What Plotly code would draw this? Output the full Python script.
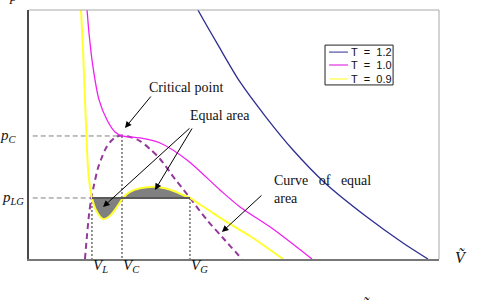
import plotly.graph_objects as go

# ---- data (reduced units) ----
v_t12 = [1.763, 1.817, 2.032, 2.269, 2.548, 2.839, 3.183, 3.634, 4.022, 4.290]
p_t12 = [2.106, 2.024, 1.740, 1.439, 1.154, 0.886, 0.618, 0.341, 0.130, 0.000]

v_t10 = [0.613, 0.624, 0.645, 0.688, 0.753, 0.839, 0.925, 1.000, 1.194, 1.409, 1.699, 2.054, 2.269, 2.624, 3.043]
p_t10 = [2.106, 2.024, 1.837, 1.561, 1.293, 1.130, 1.033, 1.000, 0.984, 0.943, 0.805, 0.561, 0.423, 0.244, 0.000]

v_t09 = [0.554, 0.559, 0.581, 0.602, 0.624, 0.640, 0.661, 0.677, 0.720, 0.796, 0.871, 0.946, 1.011, 1.086,
         1.194, 1.355, 1.462, 1.570, 1.656, 1.731, 1.839, 1.946, 2.161, 2.376, 2.731]
p_t09 = [2.106, 2.024, 1.699, 1.293, 0.886, 0.683, 0.561, 0.496, 0.398, 0.325, 0.352, 0.423, 0.496, 0.545,
         0.575, 0.588, 0.575, 0.549, 0.520, 0.496, 0.443, 0.390, 0.285, 0.187, 0.000]

v_equal = [0.602, 0.624, 0.645, 0.667, 0.699, 0.742, 0.785, 0.828, 0.882, 0.935, 1.000, 1.086, 1.194,
           1.301, 1.409, 1.570, 1.731, 1.914, 2.086, 2.290]
p_equal = [0.000, 0.195, 0.358, 0.480, 0.602, 0.740, 0.829, 0.902, 0.959, 0.992, 1.004, 0.992, 0.959,
           0.894, 0.813, 0.650, 0.496, 0.317, 0.171, 0.000]

p_C = 1.0
V_C = 1.0
p_LG = 0.496
V_L = 0.677
V_G = 1.731

legend_names = ["T\u00a0\u00a0=\u00a0\u00a01.2", "T\u00a0\u00a0=\u00a0\u00a01.0", "T\u00a0\u00a0=\u00a0\u00a00.9"]

X_MAX = 4.409
Y_MAX = 2.024

serif = "Liberation Serif"
sans = "Liberation Sans"

fig = go.Figure()

# gray equal-area lobes (part of the T=0.9 isotherm between V_L and V_G)
i0 = v_t09.index(V_L)
i1 = v_t09.index(V_G)
fig.add_trace(go.Scatter(x=v_t09[i0:i1 + 1], y=p_t09[i0:i1 + 1], mode="lines",
                         line=dict(width=0, shape="spline", smoothing=0.8),
                         fill="toself", fillcolor="#808080", hoverinfo="skip"))

# reference lines
fig.add_trace(go.Scatter(x=[0.04, V_C], y=[p_C, p_C], mode="lines",
                         line=dict(color="#808080", width=1, dash="5px,3px")))
fig.add_trace(go.Scatter(x=[0.04, V_L], y=[p_LG, p_LG], mode="lines",
                         line=dict(color="#808080", width=1, dash="5px,3px")))
for v, p in [(V_L, p_LG), (V_C, p_C), (V_G, p_LG)]:
    fig.add_trace(go.Scatter(x=[v, v], y=[p, 0], mode="lines",
                             line=dict(color="#222222", width=1, dash="2px,2px")))

# dashed equal-area curve
fig.add_trace(go.Scatter(x=v_equal, y=p_equal, mode="lines",
                         line=dict(color="#93399a", width=2, dash="6px,4px", shape="spline", smoothing=0.8)))

# isotherms
fig.add_trace(go.Scatter(x=v_t12, y=p_t12, mode="lines",
                         line=dict(color="#2e2e92", width=1.3, shape="spline", smoothing=0.8)))
fig.add_trace(go.Scatter(x=v_t10, y=p_t10, mode="lines",
                         line=dict(color="#f020f0", width=1.3, shape="spline", smoothing=0.8)))
fig.add_trace(go.Scatter(x=v_t09, y=p_t09, mode="lines",
                         line=dict(color="#ffff30", width=2, shape="spline", smoothing=0.8)))

# horizontal equal-area line
fig.add_trace(go.Scatter(x=[V_L, V_G], y=[p_LG, p_LG], mode="lines",
                         line=dict(color="#5a5a5a", width=2)))

ann = []
# arrows (tail -> head)
arrows = [((1.323, 1.333), (1.032, 1.065)),
          ((1.742, 1.073), (0.796, 0.423)),
          ((1.763, 1.073), (1.355, 0.561)),
          ((2.516, 0.528), (2.075, 0.220))]
for (tx, ty), (hx, hy) in arrows:
    ann.append(dict(x=hx, y=hy, ax=tx, ay=ty, xref="x", yref="y", axref="x", ayref="y",
                    text="", showarrow=True, arrowhead=2, arrowsize=1.3, arrowwidth=1,
                    arrowcolor="#000000"))

tf = dict(family=serif, size=14, color="#111111")
ann.append(dict(x=1.269, y=1.398, xref="x", yref="y", text="Critical point", showarrow=False,
                xanchor="left", yanchor="middle", font=tf))
ann.append(dict(x=1.710, y=1.163, xref="x", yref="y", text="Equal area", showarrow=False,
                xanchor="left", yanchor="middle", font=tf))
ann.append(dict(x=2.613, y=0.569, xref="x", yref="y",
                text="Curve\u00a0\u00a0 of\u00a0\u00a0 equal<br>area", showarrow=False,
                xanchor="left", yanchor="middle", align="left", font=tf))

lf = dict(family=serif, size=15, color="#111111")
ann.append(dict(x=-0.0244, y=p_C, xref="paper", yref="y", text="<i>p</i><sub><i>C</i></sub>",
                showarrow=False, xanchor="right", yanchor="middle", font=lf))
ann.append(dict(x=-0.0073, y=p_LG, xref="paper", yref="y", text="<i>p</i><sub><i>LG</i></sub>",
                showarrow=False, xanchor="right", yanchor="middle", font=lf))
for v, s in [(V_L, "L"), (V_C, "C"), (V_G, "G")]:
    ann.append(dict(x=v, y=-0.030, xref="x", yref="paper", text=f"<i>V</i><sub><i>{s}</i></sub>",
                    showarrow=False, xanchor="left", yanchor="middle", font=lf, xshift=-1))
ann.append(dict(x=1.054, y=0.008, xref="paper", yref="paper", text="<i>\u1e7c</i>",
                showarrow=False, xanchor="center", yanchor="middle", font=dict(family=serif, size=16, color="#111111")))
ann.append(dict(x=0.822, y=-0.189, xref="paper", yref="paper", text="<i>\u1e7c</i>",
                showarrow=False, xanchor="center", yanchor="middle", font=dict(family=serif, size=16, color="#111111")))
ann.append(dict(x=-0.039, y=1.056, xref="paper", yref="paper", text="<i>p\u0303</i>",
                showarrow=False, xanchor="center", yanchor="middle", font=dict(family=serif, size=14, color="#111111")))

# manual legend
shapes = []
lx0, lx1, ly0, ly1 = 0.722, 0.888, 0.699, 0.859
shapes.append(dict(type="rect", xref="paper", yref="paper", x0=lx0, x1=lx1, y0=ly0, y1=ly1,
                   line=dict(color="#222222", width=1), fillcolor="white"))
leg_colors = ["#2e2e92", "#ee82ee", "#ffff66"]
leg_widths = [1, 2, 1.5]
rows = [0.831, 0.779, 0.723]
for name, c, w, ry in zip(legend_names, leg_colors, leg_widths, rows):
    shapes.append(dict(type="line", xref="paper", yref="paper", x0=0.732, x1=0.778, y0=ry, y1=ry,
                       line=dict(color=c, width=w)))
    ann.append(dict(x=0.781, y=ry, xref="paper", yref="paper", text=name, showarrow=False,
                    xanchor="left", yanchor="middle", font=dict(family=sans, size=11, color="#111111")))

# frame: top and right light lines
shapes.append(dict(type="line", xref="paper", yref="paper", x0=0, x1=1, y0=1, y1=1,
                   line=dict(color="#a8a8a8", width=1)))
shapes.append(dict(type="line", xref="paper", yref="paper", x0=1, x1=1, y0=0, y1=1,
                   line=dict(color="#a8a8a8", width=1)))

fig.update_layout(
    width=478, height=300,
    margin=dict(l=29, r=39, t=10, b=41),
    paper_bgcolor="white", plot_bgcolor="white",
    showlegend=False,
    xaxis=dict(range=[0, X_MAX], showgrid=False, zeroline=False, showticklabels=False,
               ticks="", showline=True, linecolor="#777777", linewidth=2),
    yaxis=dict(range=[0, Y_MAX], showgrid=False, zeroline=False, showticklabels=False,
               ticks="", showline=True, linecolor="#4a4a4a", linewidth=2),
    annotations=ann, shapes=shapes,
)

fig.write_html("out.html")
